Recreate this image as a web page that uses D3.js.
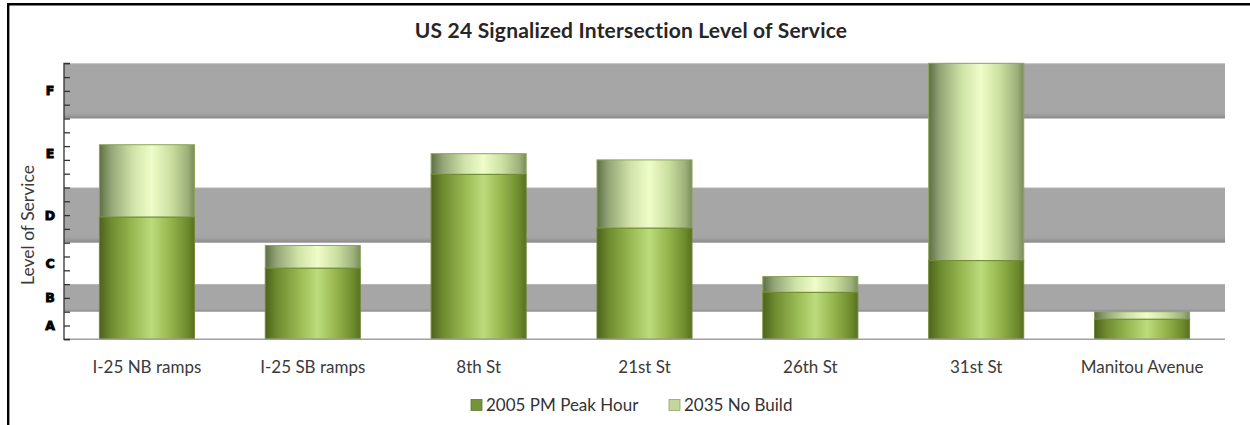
<!DOCTYPE html>
<html>
<head>
<meta charset="utf-8">
<script src="https://cdn.jsdelivr.net/npm/d3@7"></script>
<style>
  html, body { margin: 0; padding: 0; background: #fff; }
  svg { display: block; }
</style>
</head>
<body>
<svg id="chart" width="1250" height="425"></svg>
<script>
// ---- data ----
const categories = ["I-25 NB ramps", "I-25 SB ramps", "8th St", "21st St", "26th St", "31st St", "Manitou Avenue"];
const peak2005 = [8.85, 5.15, 11.95, 8.05, 3.4, 5.7, 1.45];
const noBuild2035 = [14.1, 6.8, 13.45, 13.0, 4.55, 20.0, 2.0];
const seriesNames = ["2005 PM Peak Hour", "2035 No Build"];
const losLetters = ["A", "B", "C", "D", "E", "F"];
const losBreaks = [0, 2, 4, 7, 11, 16, 20];
const shadedLetters = ["B", "D", "F"];
const chartTitle = "US 24 Signalized Intersection Level of Service";
const yTitle = "Level of Service";

(function () {
// ---- layout ----
const svg = d3.select("#chart");
const pL = 64, pR = 1225, pT = 63.3, pB = 339.3;
const font = "Lato, 'Open Sans', sans-serif";

const x = d3.scaleBand().domain(categories).range([pL, pR])
  .paddingInner(0.427).paddingOuter(0.2135);
const y = d3.scaleLinear().domain([0, 20]).range([pB, pT]);

// gradients
const defs = svg.append("defs");
function cyl(id, stops) {
  const g = defs.append("linearGradient").attr("id", id).attr("x1", "0").attr("x2", "1").attr("y1", "0").attr("y2", "0");
  stops.forEach(s => g.append("stop").attr("offset", s[0]).attr("stop-color", s[1]));
}
cyl("g2005", [[0, "#4d621d"], [0.12, "#6d8a2e"], [0.35, "#98b852"], [0.55, "#bcdc7c"], [0.75, "#95b44c"], [0.93, "#6d8a2c"], [1, "#586f22"]]);
cyl("g2035", [[0, "#5f6f45"], [0.12, "#93a575"], [0.35, "#cfe3a8"], [0.55, "#effdc8"], [0.75, "#cbe0a0"], [0.93, "#9cb07a"], [1, "#7a8c5a"]]);
const bandGrad = defs.append("linearGradient").attr("id", "gBand").attr("x1", "0").attr("x2", "0").attr("y1", "0").attr("y2", "1");
[[0, "#b4b4b4"], [0.03, "#a6a6a6"], [0.9, "#a6a6a6"], [0.97, "#939393"], [1, "#8a8a8a"]]
  .forEach(s => bandGrad.append("stop").attr("offset", s[0]).attr("stop-color", s[1]));

// frame
svg.append("line").attr("x1", 7).attr("x2", 1250).attr("y1", 4.2).attr("y2", 4.2)
  .attr("stroke", "#000").attr("stroke-width", 2.6);
svg.append("line").attr("x1", 8.2).attr("x2", 8.2).attr("y1", 3).attr("y2", 425)
  .attr("stroke", "#000").attr("stroke-width", 2.4);

// LOS bands
const bandData = losLetters.map((l, i) => ({ letter: l, lo: losBreaks[i], hi: losBreaks[i + 1] }));
svg.append("g").selectAll("rect").data(bandData.filter(d => shadedLetters.includes(d.letter)))
  .join("rect")
  .attr("x", pL).attr("width", pR - pL)
  .attr("y", d => y(d.hi)).attr("height", d => y(d.lo) - y(d.hi))
  .attr("fill", "url(#gBand)");

// bars
const rows = categories.map((c, i) => ({ c, a: peak2005[i], b: noBuild2035[i] }));
const gBars = svg.append("g");
gBars.selectAll("rect.s2035").data(rows).join("rect").attr("class", "s2035")
  .attr("x", d => x(d.c)).attr("width", x.bandwidth())
  .attr("y", d => y(d.b)).attr("height", d => y(d.a) - y(d.b))
  .attr("fill", "url(#g2035)").attr("stroke", "#8da558").attr("stroke-width", 1);
gBars.selectAll("rect.s2005").data(rows).join("rect").attr("class", "s2005")
  .attr("x", d => x(d.c)).attr("width", x.bandwidth())
  .attr("y", d => y(d.a)).attr("height", d => y(0) - y(d.a))
  .attr("fill", "url(#g2005)").attr("stroke", "#6f8a34").attr("stroke-width", 1);

// x axis line
svg.append("line").attr("x1", pL).attr("x2", pR).attr("y1", pB).attr("y2", pB)
  .attr("stroke", "#a0a0a0").attr("stroke-width", 1.5);

// y axis
const yAxis = d3.axisRight(y).tickValues(d3.range(0, 21)).tickSize(6).tickFormat("");
const ga = svg.append("g").attr("transform", `translate(${pL},0)`).call(yAxis);
ga.select(".domain").attr("stroke", "#333").attr("stroke-width", 1.3).attr("d", `M6,${pT}H0V${pB}H6`);
ga.selectAll(".tick line").attr("stroke", "#333").attr("stroke-width", 1.3);

// LOS letters
svg.append("g").selectAll("text").data(bandData).join("text")
  .attr("x", 50).attr("y", d => y((d.lo + d.hi) / 2))
  .attr("dy", "0.36em").attr("text-anchor", "middle")
  .attr("font-family", "'DejaVu Sans', sans-serif").attr("font-weight", "900")
  .attr("font-size", 12.5).attr("fill", "#000")
  .attr("stroke", "#000").attr("stroke-width", 0.9)
  .text(d => d.letter);

// y title
svg.append("text").attr("transform", `translate(34,225) rotate(-90)`)
  .attr("text-anchor", "middle").attr("font-family", font).attr("font-size", 17.5)
  .attr("fill", "#3a3a3a").text(yTitle);

// category labels
svg.append("g").selectAll("text").data(categories).join("text")
  .attr("x", d => x(d) + x.bandwidth() / 2).attr("y", 373)
  .attr("text-anchor", "middle").attr("font-family", font).attr("font-size", 17)
  .attr("fill", "#3a3a3a").text(d => d);

// title
svg.append("text").attr("x", 631).attr("y", 38).attr("text-anchor", "middle")
  .attr("font-family", font).attr("font-weight", "bold").attr("font-size", 21)
  .attr("letter-spacing", 0.2)
  .attr("fill", "#262626").text(chartTitle);

// legend
const legFills = ["#76933c", "#c3d69b"];
const legStroke = ["#5d7a2a", "#8fa860"];
const legX = [471, 669];
const lg = svg.append("g");
seriesNames.forEach((n, i) => {
  lg.append("rect").attr("x", legX[i]).attr("y", 399.5).attr("width", 11).attr("height", 11)
    .attr("fill", legFills[i]).attr("stroke", legStroke[i]).attr("stroke-width", 0.8);
  lg.append("text").attr("x", legX[i] + 15).attr("y", 411).attr("font-family", font)
    .attr("font-size", 17).attr("fill", "#333").text(n);
});
})();
</script>
</body>
</html>
